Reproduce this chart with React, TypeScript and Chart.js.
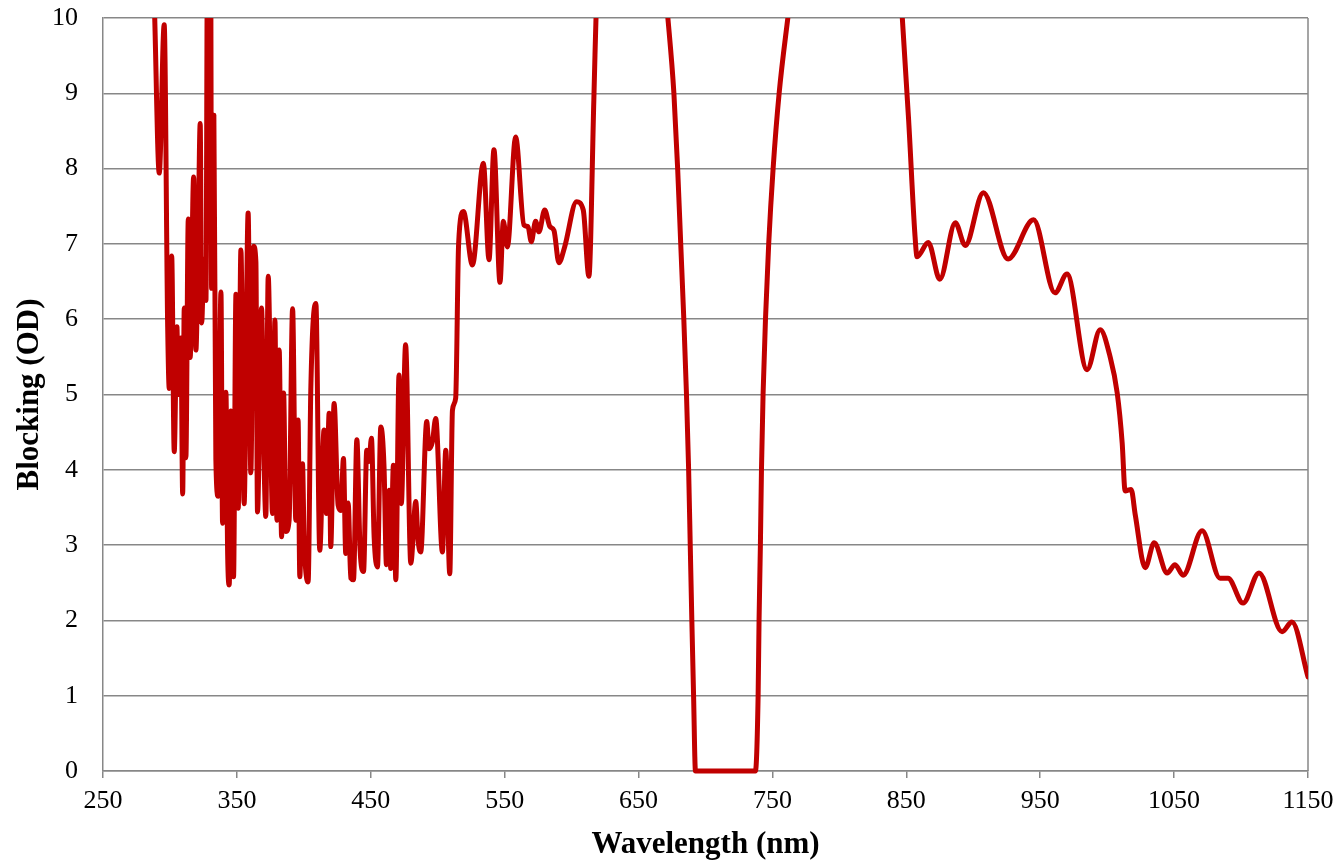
import React, { useEffect, useRef } from "react";
import { Chart, registerables } from "chart.js";

Chart.register(...registerables);

// Wavelength (nm)
const wavelengths: number[] = [
  284, 288.3, 292.0, 295.7, 298.3, 299.5, 301.3, 303.2, 305.2, 306.2,
  308.2, 309.5, 310.7, 311.9, 313.7, 315.1, 317.7, 319.4, 320.9, 322.6,
  323.7, 325.4, 326.9, 328.0, 329.3, 330.4, 331.1, 332.8, 334.3, 336.0,
  338.1, 339.3, 341.8, 343.1, 344.3, 345.5, 347.5, 349.3, 351.0, 353.0,
  355.4, 358.4, 360.4, 362.5, 364.2, 365.4, 368.4, 370.4, 371.6, 373.4,
  376.6, 378.4, 379.9, 381.6, 383.4, 384.9, 386.6, 389.0, 391.6, 394.0,
  395.7, 397.0, 399.0, 400.2, 403.2, 405.2, 409.0, 411.9, 415.1, 416.9,
  418.9, 420.1, 422.6, 425.6, 427.6, 429.6, 431.3, 433.1, 435.1, 437.1,
  439.6, 442.0, 444.6, 447.0, 448.7, 450.5, 452.5, 455.0, 457.5, 459.9,
  461.7, 463.7, 464.9, 466.9, 468.7, 471.1, 472.8, 476.0, 479.9, 483.6,
  485.3, 487.3, 491.8, 493.5, 496.0, 498.5, 503.5, 506.0, 509.0, 511.0,
  513.4, 515.6, 519.2, 525.9, 534.1, 538.3, 542.0, 546.5, 549.0, 552.0,
  558.2, 564.4, 567.4, 569.9, 573.1, 575.6, 579.9, 583.8, 586.8, 590.5,
  594.8, 603.7, 608.7, 612.9, 616.6, 619, 630, 648, 660, 666,
  671.9, 676.4, 679.2, 681.5, 683.8, 685.8, 687.4, 688.6, 689.8, 691.1,
  692.5, 715, 737.3, 739.3, 740.0, 741.0, 741.8, 743.0, 744.8, 747.2,
  750.5, 755, 761.5, 770, 790, 820, 840, 847, 851.7, 856.5,
  858, 866.4, 875, 886.6, 894, 907.5, 926, 945, 961, 970,
  985, 994.8, 1002.2, 1007.5, 1011.2, 1013.4, 1017.9, 1021, 1028.4, 1035.1,
  1044.8, 1050.7, 1056.7, 1070.9, 1084.3, 1090.3, 1101.5, 1113.4, 1130.6, 1138,
  1150,
];

// Blocking (OD)
const blocking: number[] = [
  12, 10.2, 7.94, 9.91, 5.9, 5.08, 6.84, 4.24, 5.9, 5.0,
  5.75, 3.68, 6.15, 4.16, 7.33, 5.49, 7.89, 5.59, 6.8, 8.6,
  5.95, 6.8, 6.25, 10.8, 8.2, 10.8, 6.41, 8.71, 4.13, 3.65,
  6.36, 3.29, 5.03, 2.88, 2.47, 4.78, 2.58, 6.33, 3.49, 6.92,
  3.55, 7.41, 3.96, 6.97, 6.76, 3.44, 6.15, 4.01, 3.38, 6.57,
  3.42, 5.99, 3.33, 5.59, 3.11, 5.02, 3.18, 3.33, 6.14, 3.33,
  4.66, 2.58, 4.08, 3.09, 2.51, 5.06, 6.21, 2.93, 4.53, 3.42,
  4.75, 2.98, 4.88, 3.53, 3.46, 4.15, 2.89, 3.56, 2.56, 2.54,
  4.4, 2.94, 2.65, 4.26, 4.11, 4.42, 3.11, 2.71, 4.57, 4.04,
  2.74, 3.73, 2.69, 4.06, 2.54, 5.26, 3.55, 5.66, 2.76, 3.58,
  3.07, 2.91, 4.64, 4.28, 4.37, 4.68, 2.91, 4.26, 2.62, 4.79,
  4.95, 7.0, 7.43, 6.72, 8.07, 6.79, 8.25, 6.49, 7.3, 6.96,
  8.42, 7.25, 7.23, 7.03, 7.3, 7.16, 7.45, 7.23, 7.18, 6.75,
  6.96, 7.56, 7.45, 6.57, 8.91, 10.5, 13.5, 14.5, 12.6, 11.1,
  10, 9, 8, 7, 6, 5, 4, 3, 2, 1,
  0, 0, 0, 1, 2, 3, 4, 5, 6, 7,
  8, 9, 10, 11.2, 13, 13.5, 11.8, 10, 8.65, 7.1,
  6.83, 7.02, 6.53, 7.28, 6.98, 7.68, 6.8, 7.32, 6.35, 6.6,
  5.33, 5.86, 5.5, 5.02, 4.36, 3.72, 3.74, 3.4, 2.7, 3.03,
  2.63, 2.74, 2.6, 3.19, 2.56, 2.56, 2.23, 2.63, 1.85, 1.98,
  1.25,
];

const xTickValues: number[] = [250, 350, 450, 550, 650, 750, 850, 950, 1050, 1150];
const yTickValues: number[] = [0, 1, 2, 3, 4, 5, 6, 7, 8, 9, 10];

const FONT = "'Liberation Serif', 'Times New Roman', Times, serif";
const GRID = "#878787";

const rightBorder = {
  id: "rightBorder",
  beforeDatasetsDraw(chart: any) {
    const { ctx, chartArea } = chart;
    ctx.save();
    ctx.strokeStyle = GRID;
    ctx.lineWidth = 1.5;
    ctx.beginPath();
    ctx.moveTo(chartArea.right, chartArea.top);
    ctx.lineTo(chartArea.right, chartArea.bottom);
    ctx.stroke();
    ctx.restore();
  },
};

export default function App() {
  const ref = useRef<HTMLCanvasElement>(null);

  useEffect(() => {
    document.body.style.margin = "0";
    const points = wavelengths.map((x, i) => ({ x, y: blocking[i] }));
    const chart = new Chart(ref.current as HTMLCanvasElement, {
      type: "line",
      data: {
        datasets: [
          {
            data: points,
            borderColor: "#C00000",
            borderWidth: 5,
            pointRadius: 0,
            cubicInterpolationMode: "monotone",
            borderJoinStyle: "round",
            borderCapStyle: "round",
            clip: { left: 0, top: 0, right: 0, bottom: 5 },
          } as any,
        ],
      },
      options: {
        responsive: false,
        animation: false,
        layout: { padding: { left: 0, right: 32, top: 18, bottom: 0 }, autoPadding: false },
        plugins: { legend: { display: false }, tooltip: { enabled: false } },
        scales: {
          x: {
            type: "linear",
            min: 250,
            max: 1150,
            afterBuildTicks: (s: any) => {
              s.ticks = xTickValues.map((v) => ({ value: v }));
            },
            afterFit: (s: any) => {
              s.height = 93;
              s.paddingLeft = 0;
              s.paddingRight = 0;
            },
            ticks: {
              font: { family: FONT, size: 26 },
              color: "#000",
              padding: 8,
              maxRotation: 0,
              autoSkip: false,
              callback: (v: any) => String(v),
            },
            grid: {
              drawOnChartArea: false,
              drawTicks: true,
              tickLength: 7,
              color: GRID,
              lineWidth: 1.5,
            },
            border: { color: GRID, width: 1.5 },
            title: {
              display: true,
              text: "Wavelength (nm)",
              font: { family: FONT, size: 31, weight: "bold" },
              color: "#000",
              padding: { top: 0, bottom: 0 },
            },
          },
          y: {
            type: "linear",
            min: 0,
            max: 10,
            afterBuildTicks: (s: any) => {
              s.ticks = yTickValues.map((v) => ({ value: v }));
            },
            afterFit: (s: any) => {
              s.width = 103;
            },
            ticks: {
              font: { family: FONT, size: 26 },
              color: "#000",
              padding: 0,
              callback: (v: any) => String(v),
            },
            grid: {
              drawTicks: true,
              tickLength: 25,
              tickColor: "rgba(0,0,0,0)",
              color: GRID,
              lineWidth: 1.5,
            },
            border: { color: GRID, width: 1.5 },
            title: {
              display: true,
              text: "Blocking (OD)",
              font: { family: FONT, size: 31, weight: "bold" },
              color: "#000",
              padding: { top: 11, bottom: 0 },
            },
          },
        },
      } as any,
      plugins: [rightBorder],
    });
    return () => chart.destroy();
  }, []);

  return (
    <div style={{ width: 1340, height: 864 }}>
      <canvas ref={ref} width={1340} height={864} />
    </div>
  );
}
